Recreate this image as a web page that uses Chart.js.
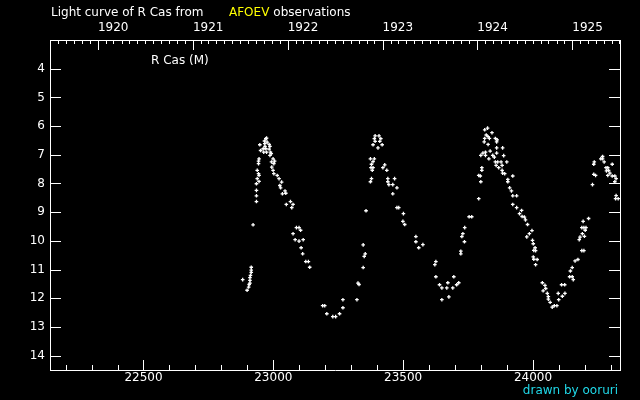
<!DOCTYPE html>
<html>
<head>
<meta charset="utf-8">
<title>R Cas light curve</title>
<script src="https://cdn.jsdelivr.net/npm/chart.js@4.4.1/dist/chart.umd.min.js"></script>
<style>
  html, body { margin: 0; padding: 0; background: #000; }
  canvas { display: block; }
</style>
</head>
<body>
<canvas id="myChart" width="640" height="400"></canvas>
<script>
// tick labels
const jdTicks = [22500, 23000, 23500, 24000];
const magTicks = [4, 5, 6, 7, 8, 9, 10, 11, 12, 13, 14];
const yearLabels = ['1920', '1921', '1922', '1923', '1924', '1925'];

// observations: JD - 2400000, visual magnitude
const obsJD = [
  22882, 22899, 22905, 22907, 22910, 22910, 22910, 22912, 22915, 22915, 22915, 22922,
  22935, 22935, 22935, 22935, 22938, 22938, 22943, 22943, 22943, 22945, 22945, 22945,
  22948, 22951, 22961, 22963, 22966, 22967, 22968, 22971, 22971, 22974, 22974, 22976,
  22984, 22984, 22987, 22987, 22989, 22992, 22993, 22994, 22999, 22999, 23002, 23002,
  23005, 23015, 23022, 23025, 23028, 23032, 23035, 23045, 23048, 23050, 23066, 23071,
  23076, 23076, 23084, 23089, 23099, 23099, 23105, 23107, 23113, 23115, 23125, 23135,
  23140, 23190, 23198, 23206, 23229, 23240, 23255, 23268, 23268, 23322, 23326, 23330,
  23346, 23346, 23350, 23354, 23357, 23374, 23374, 23376, 23378, 23378, 23381, 23384,
  23384, 23384, 23389, 23389, 23392, 23392, 23403, 23407, 23410, 23414, 23419, 23422,
  23429, 23437, 23441, 23441, 23445, 23460, 23460, 23467, 23476, 23476, 23483, 23499,
  23501, 23506, 23549, 23549, 23560, 23576, 23622, 23626, 23626, 23640, 23649, 23649,
  23668, 23672, 23676, 23691, 23695, 23706, 23714, 23722, 23722, 23726, 23730, 23736,
  23737, 23754, 23764, 23791, 23791, 23797, 23799, 23799, 23803, 23803, 23807, 23812,
  23814, 23814, 23817, 23817, 23820, 23825, 23827, 23827, 23830, 23832, 23835, 23842,
  23845, 23851, 23855, 23855, 23858, 23860, 23860, 23860, 23862, 23864, 23868, 23877,
  23881, 23881, 23883, 23883, 23887, 23891, 23899, 23903, 23903, 23910, 23917, 23922,
  23922, 23922, 23937, 23937, 23948, 23956, 23958, 23967, 23971, 23976, 23979, 23986,
  23996, 23998, 24001, 24001, 24003, 24003, 24008, 24010, 24010, 24016, 24036, 24039,
  24046, 24049, 24055, 24059, 24059, 24066, 24074, 24082, 24092, 24097, 24099, 24110,
  24113, 24122, 24123, 24141, 24144, 24151, 24151, 24155, 24162, 24173, 24178, 24181,
  24188, 24188, 24190, 24193, 24196, 24196, 24198, 24201, 24204, 24214, 24229, 24234,
  24234, 24236, 24241, 24261, 24268, 24268, 24274, 24281, 24283, 24288, 24288, 24291,
  24296, 24305, 24305, 24315, 24315, 24318, 24320, 24320, 24328
];
const obsMag = [
  11.35, 11.72, 11.61, 11.52, 11.47, 11.38, 11.28, 11.20, 11.10, 11.02, 10.92, 9.44,
  8.63, 8.43, 8.24, 8.01, 7.83, 7.54, 7.66, 7.31, 7.22, 7.93, 7.72, 7.14,
  6.65, 6.85, 6.79, 6.91, 6.52, 6.61, 6.71, 6.44, 6.79, 6.42, 6.91, 6.56,
  6.64, 6.80, 6.71, 7.02, 6.91, 6.96, 7.25, 7.43, 7.14, 7.54, 7.31, 7.66,
  7.22, 7.72, 7.83, 8.07, 8.15, 7.95, 8.36, 8.26, 8.34, 8.73, 8.63, 8.84,
  8.73, 9.75, 9.96, 9.54, 9.54, 10.01, 9.63, 10.24, 10.45, 9.96, 10.72, 10.72,
  10.92, 12.26, 12.26, 12.54, 12.64, 12.64, 12.54, 12.33, 12.05, 12.05, 11.47, 11.52,
  10.93, 10.14, 10.54, 10.45, 8.95, 7.94, 7.14, 7.45, 7.83, 7.33, 7.54, 7.45,
  7.24, 6.65, 7.14, 6.44, 6.53, 6.34, 6.76, 6.34, 6.53, 6.44, 6.65, 7.45,
  7.35, 7.54, 7.83, 7.94, 8.04, 8.04, 8.36, 7.83, 8.15, 8.84, 8.84, 9.32,
  9.05, 9.43, 9.85, 10.03, 10.24, 10.13, 10.83, 10.72, 11.25, 11.53, 11.64, 12.05,
  11.64, 11.46, 11.95, 11.64, 11.25, 11.53, 11.46, 10.45, 10.36, 9.85, 9.75, 10.03,
  9.54, 9.16, 9.16, 8.53, 7.72, 7.74, 7.94, 7.02, 7.54, 7.45, 6.94, 6.55,
  6.13, 6.43, 6.91, 7.02, 6.31, 6.07, 6.37, 6.64, 7.14, 6.43, 6.87, 6.23,
  7.02, 7.08, 6.43, 7.25, 7.37, 6.55, 6.76, 6.94, 6.48, 7.25, 7.45, 7.25,
  7.37, 7.54, 6.76, 7.64, 7.03, 7.66, 7.25, 7.86, 7.94, 8.15, 8.26, 7.74,
  8.43, 8.73, 8.43, 8.84, 9.05, 8.94, 9.15, 9.17, 9.27, 9.86, 9.43, 9.75,
  9.64, 9.98, 10.10, 10.56, 10.33, 10.64, 10.24, 10.34, 10.83, 10.65, 11.46, 11.74,
  11.55, 11.66, 11.83, 11.94, 12.03, 12.14, 12.31, 12.26, 12.26, 11.83, 12.05, 11.53,
  11.93, 11.53, 11.83, 11.25, 11.05, 11.25, 10.93, 11.35, 10.70, 10.65, 9.96, 9.87,
  10.34, 9.54, 9.75, 9.32, 10.34, 9.54, 9.84, 9.63, 9.54, 9.22, 8.04, 7.68,
  7.33, 7.25, 7.72, 7.14, 7.06, 7.14, 7.25, 7.45, 7.56, 7.45, 7.72, 7.54,
  7.64, 7.33, 7.74, 7.74, 7.94, 8.53, 7.83, 8.42, 8.53
];

const JD_MIN = 22140, JD_MAX = 24335;
const FONT = '12px "DejaVu Sans"';

// JD - 2400000 at 0h UT of the 1st of a month
function jdOf(year, month) {
  return Date.UTC(year, month, 1) / 86400000 + 40587.5;
}
const yearJD = yearLabels.map(y => jdOf(+y, 0));

const tickMarks = {
  id: 'tickMarks',
  afterDraw(chart) {
    const ctx = chart.ctx;
    const a = chart.chartArea;
    const sx = chart.scales.x, sy = chart.scales.y;
    ctx.save();
    ctx.strokeStyle = '#fff';
    ctx.lineWidth = 1;
    ctx.beginPath();
    // bottom: every 100 days, long every 500
    for (let v = 22200; v <= JD_MAX; v += 100) {
      const x = Math.round(sx.getPixelForValue(v)) + 0.5;
      const len = v % 500 === 0 ? 10 : 5;
      ctx.moveTo(x, a.bottom);
      ctx.lineTo(x, a.bottom - len);
    }
    // top: months, long at new year
    for (let y = 1919; y <= 1926; y++) {
      for (let m = 0; m < 12; m++) {
        const jd = jdOf(y, m);
        if (jd < JD_MIN || jd > JD_MAX) continue;
        const x = Math.round(sx.getPixelForValue(jd)) + 0.5;
        const len = m === 0 ? 10 : 4;
        ctx.moveTo(x, a.top);
        ctx.lineTo(x, a.top + len);
      }
    }
    // magnitudes, both sides
    magTicks.forEach(m => {
      const y = Math.round(sy.getPixelForValue(m)) + 0.5;
      ctx.moveTo(a.left, y);
      ctx.lineTo(a.left + 11, y);
      ctx.moveTo(a.right, y);
      ctx.lineTo(a.right - 11, y);
    });
    ctx.stroke();

    // texts
    ctx.font = FONT;
    ctx.textBaseline = 'alphabetic';
    ctx.textAlign = 'left';
    ctx.fillStyle = '#fff';
    ctx.fillText('Light curve of R Cas from', 51, 16);
    ctx.fillStyle = '#ffff00';
    ctx.fillText('AFOEV', 229, 16);
    const afterAfoev = 229 + ctx.measureText('AFOEV').width + 4;
    ctx.fillStyle = '#fff';
    ctx.fillText('observations', afterAfoev, 16);
    ctx.fillText('R Cas (M)', 151, 64);
    ctx.fillStyle = '#20d8e8';
    ctx.textAlign = 'right';
    ctx.fillText('drawn by ooruri', 618, 394);
    ctx.restore();
  }
};

Chart.defaults.font.family = '"DejaVu Sans"';
Chart.defaults.font.size = 12;
Chart.defaults.color = '#fff';

const ctx = document.getElementById('myChart').getContext('2d');
new Chart(ctx, {
  type: 'scatter',
  data: {
    datasets: [{
      label: 'R Cas (M)',
      data: obsJD.map((jd, i) => ({ x: jd, y: obsMag[i] })),
      pointStyle: 'cross',
      pointRadius: 1.8,
      pointBorderWidth: 1.3,
      borderColor: '#fff',
      backgroundColor: '#fff',
    }],
  },
  options: {
    responsive: false,
    animation: false,
    layout: { padding: 0 },
    plugins: {
      legend: { display: false },
      tooltip: { enabled: false },
    },
    scales: {
      x: {
        type: 'linear',
        position: 'bottom',
        min: JD_MIN,
        max: JD_MAX,
        afterBuildTicks: s => { s.ticks = jdTicks.map(v => ({ value: v })); },
        afterFit: s => { s.height = 30; },
        ticks: { callback: v => String(v), autoSkip: false, maxRotation: 0, padding: 1 },
        grid: { display: false, drawTicks: false },
        border: { color: '#fff', width: 1 },
      },
      xTop: {
        type: 'linear',
        position: 'top',
        min: JD_MIN,
        max: JD_MAX,
        afterBuildTicks: s => { s.ticks = yearJD.map(v => ({ value: v })); },
        afterFit: s => { s.height = 40; },
        ticks: { callback: (v, i) => yearLabels[i], autoSkip: false, maxRotation: 0, align: 'start', padding: 5 },
        grid: { display: false, drawTicks: false },
        border: { color: '#fff', width: 1 },
      },
      y: {
        type: 'linear',
        position: 'left',
        reverse: true,
        min: 3,
        max: 14.5,
        afterBuildTicks: s => { s.ticks = magTicks.map(v => ({ value: v })); },
        afterFit: s => { s.width = 50; },
        ticks: { callback: v => String(v), autoSkip: false, padding: 5 },
        grid: { display: false, drawTicks: false },
        border: { color: '#fff', width: 1 },
      },
      yRight: {
        type: 'linear',
        position: 'right',
        reverse: true,
        min: 3,
        max: 14.5,
        afterFit: s => { s.width = 20; },
        ticks: { display: false },
        grid: { display: false, drawTicks: false },
        border: { color: '#fff', width: 1 },
      },
    },
  },
  plugins: [tickMarks],
});
</script>
</body>
</html>
